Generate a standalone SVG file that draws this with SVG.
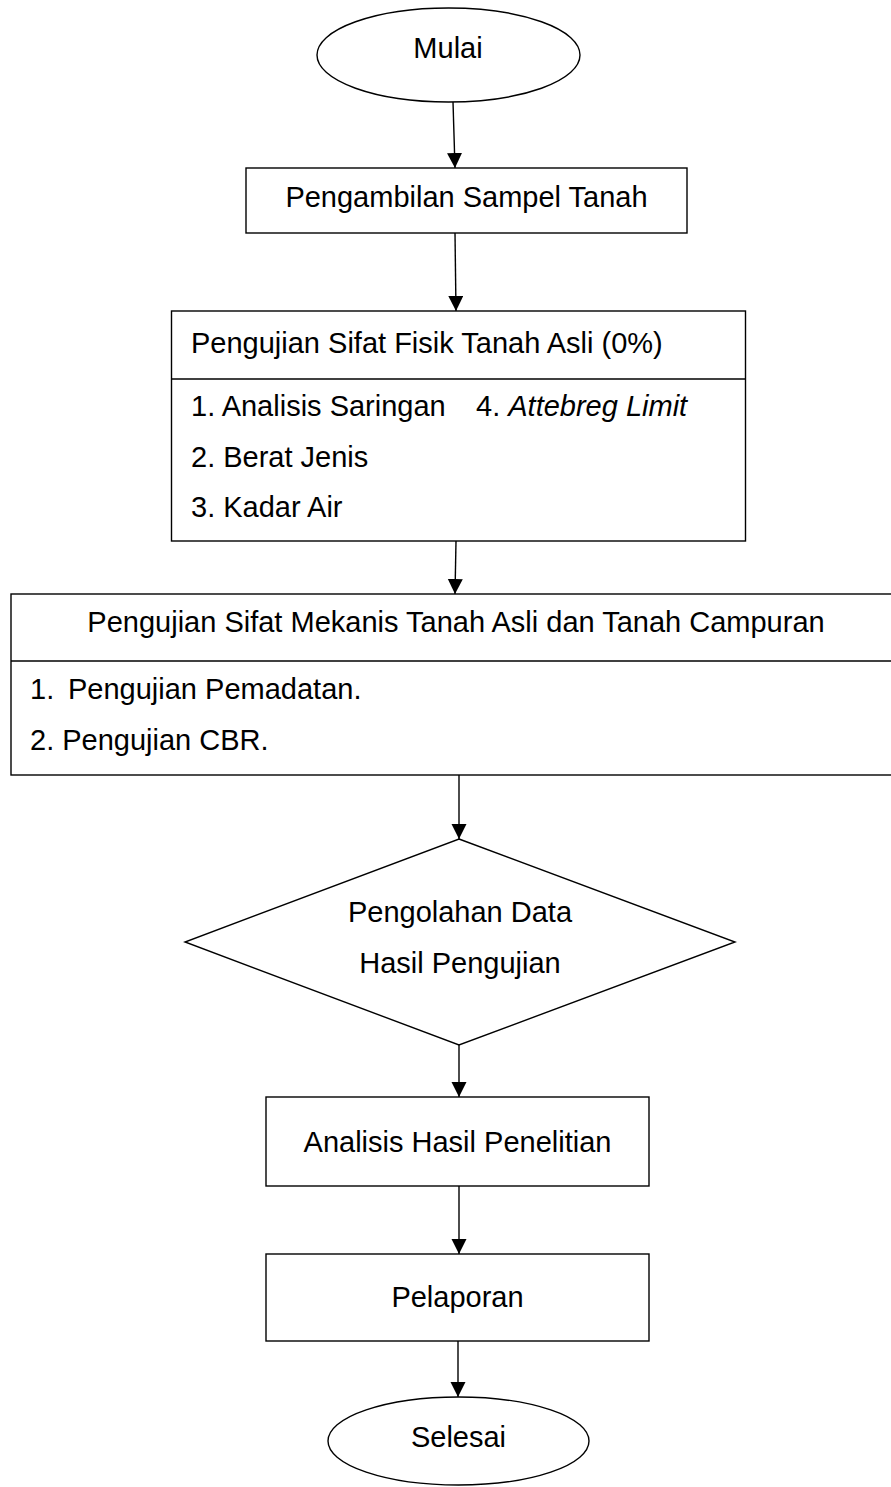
<svg xmlns="http://www.w3.org/2000/svg" width="891" height="1487" viewBox="0 0 891 1487">
<style>
.s{fill:#fff;stroke:#000;stroke-width:1.4}
.t{font-family:"Liberation Sans",Arial,sans-serif;font-size:29px;fill:#000}
.c{text-anchor:middle}
.ln{stroke:#000;stroke-width:1.4;fill:none}
</style>
<defs>
<marker id="ah" markerUnits="userSpaceOnUse" markerWidth="16" markerHeight="16" refX="15" refY="7.5" orient="auto">
<path d="M0,0 L15,7.5 L0,15 Z" fill="#000"/>
</marker>
</defs>
<rect width="891" height="1487" fill="#fff"/>
<g id="connectors">
<line class="ln" x1="453" y1="102" x2="455" y2="168" marker-end="url(#ah)"/>
<line class="ln" x1="455" y1="233" x2="456" y2="311" marker-end="url(#ah)"/>
<line class="ln" x1="456" y1="541" x2="455" y2="594" marker-end="url(#ah)"/>
<line class="ln" x1="459" y1="775" x2="459" y2="839" marker-end="url(#ah)"/>
<line class="ln" x1="459" y1="1045" x2="459" y2="1097" marker-end="url(#ah)"/>
<line class="ln" x1="459" y1="1186" x2="459" y2="1254" marker-end="url(#ah)"/>
<line class="ln" x1="458" y1="1341" x2="458" y2="1397" marker-end="url(#ah)"/>
</g>
<g id="mulai">
<ellipse class="s" cx="448.5" cy="55" rx="131.5" ry="47"/>
<text class="t c" x="448" y="58">Mulai</text>
</g>
<g id="pengambilan">
<rect class="s" x="246" y="168" width="441" height="65"/>
<text class="t c" x="466.5" y="207">Pengambilan Sampel Tanah</text>
</g>
<g id="fisik">
<rect class="s" x="171.5" y="311" width="574" height="230"/>
<line class="ln" x1="171.5" y1="379" x2="745.5" y2="379"/>
<text class="t" x="191" y="353">Pengujian Sifat Fisik Tanah Asli (0%)</text>
<text class="t" x="191" y="416">1. Analisis Saringan</text>
<text class="t" x="476" y="416">4. <tspan font-style="italic">Attebreg Limit</tspan></text>
<text class="t" x="191" y="467">2. Berat Jenis</text>
<text class="t" x="191" y="517">3. Kadar Air</text>
</g>
<g id="mekanis">
<rect class="s" x="11" y="594" width="885" height="181"/>
<line class="ln" x1="11" y1="661" x2="896" y2="661"/>
<text class="t c" x="456" y="632">Pengujian Sifat Mekanis Tanah Asli dan Tanah Campuran</text>
<text class="t" x="30" y="699">1.<tspan x="68">Pengujian Pemadatan.</tspan></text>
<text class="t" x="30" y="750">2. Pengujian CBR.</text>
</g>
<g id="pengolahan">
<polygon class="s" points="459,839 735,942 459,1045 185,942"/>
<text class="t c" x="460" y="922">Pengolahan Data</text>
<text class="t c" x="460" y="973">Hasil Pengujian</text>
</g>
<g id="analisis">
<rect class="s" x="266" y="1097" width="383" height="89"/>
<text class="t c" x="457.5" y="1152">Analisis Hasil Penelitian</text>
</g>
<g id="pelaporan">
<rect class="s" x="266" y="1254" width="383" height="87"/>
<text class="t c" x="457.5" y="1307">Pelaporan</text>
</g>
<g id="selesai">
<ellipse class="s" cx="458.5" cy="1441" rx="130.5" ry="44"/>
<text class="t c" x="458.5" y="1447">Selesai</text>
</g>
</svg>
